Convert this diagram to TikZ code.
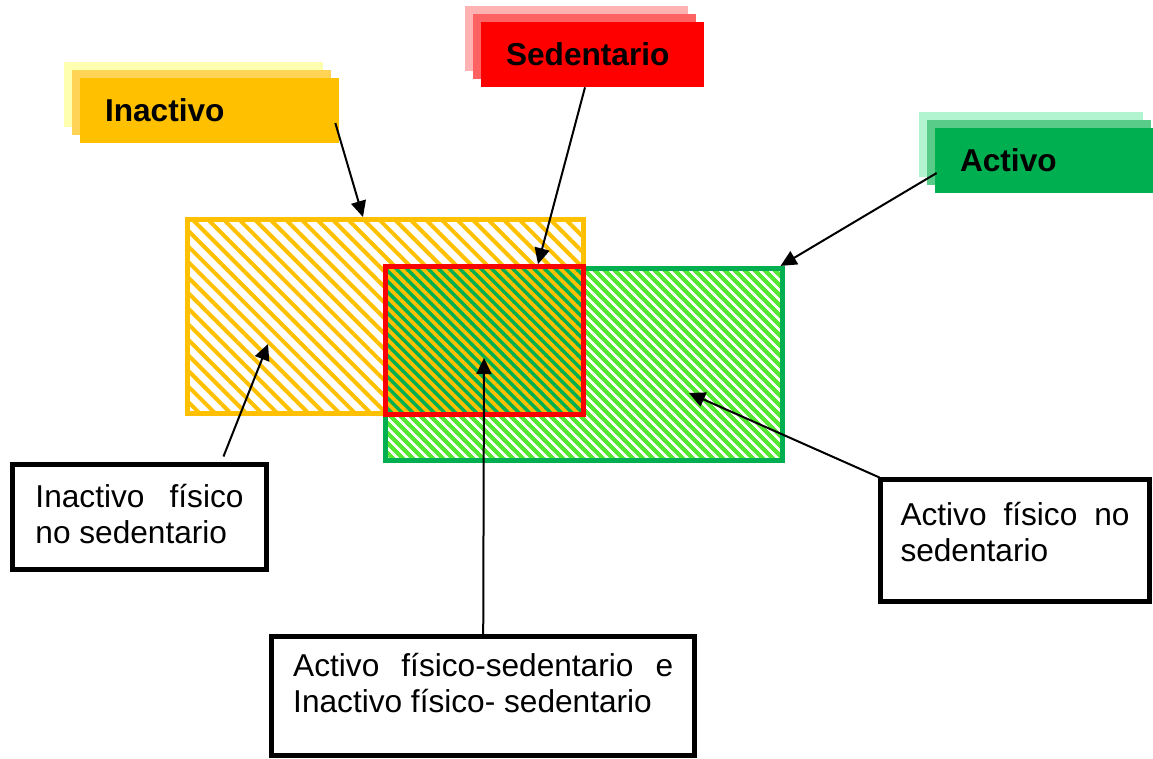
\documentclass[tikz,border=0pt]{standalone}
\usepackage{fontspec}
\setmainfont{Liberation Sans}
\usetikzlibrary{arrows.meta,patterns.meta,shadows}
\definecolor{inacorange}{HTML}{FFC000}
\definecolor{inacmid}{HTML}{FFD456}
\definecolor{inacpale}{HTML}{FFFFB0}
\definecolor{sedred}{HTML}{FF0000}
\definecolor{sedmid}{HTML}{FF6262}
\definecolor{sedpale}{HTML}{FFB2B2}
\definecolor{actgreen}{HTML}{00B050}
\definecolor{actmid}{HTML}{5ACC8A}
\definecolor{actpale}{HTML}{B2F4D0}
\definecolor{actlight}{HTML}{55E833}
\begin{document}
\begin{tikzpicture}[x=0.02cm,y=-0.02cm,
        tag/.style n args={3}{fill=#1, inner xsep=0.5cm, inner ysep=0pt, minimum height=1.3cm,
            align=left, font=\fontsize{18}{21}\selectfont\bfseries,
            general shadow={fill=#3, shadow xshift=-0.32cm, shadow yshift=0.32cm},
            general shadow={fill=#2, shadow xshift=-0.16cm, shadow yshift=0.16cm}},
        region/.style={draw=#1, line width=0.1cm, inner sep=0pt},
        txtbox/.style={draw, line width=0.1cm, fill=white, outer sep=0pt, inner ysep=0pt,
            align=justify, anchor=base west, font=\fontsize{18}{21}\selectfont},
        arr/.style={line width=0.04cm, -{Triangle[length=0.32cm,width=0.3cm]}}]
        \useasboundingbox (0,0) rectangle (1153,758);
        \node[region=inacorange, pattern={Lines[angle=-45,distance=0.22cm,line width=0.08cm]},
            pattern color=inacorange, minimum width=7.94cm, minimum height=3.9cm] (inacrect) at (385.5,316.5) {};
        \node[region=actgreen, pattern={Lines[angle=-45,distance=0.14cm,line width=0.085cm]},
            pattern color=actlight, minimum width=7.96cm, minimum height=3.86cm] (actrect) at (584,364.5) {};
        \node[region=sedred, preaction={fill=actgreen}, pattern={Lines[angle=-45,distance=0.15cm,line width=0.075cm]},
            pattern color=inacorange, minimum width=3.98cm, minimum height=2.98cm] (sedrect) at (484.5,340.5) {};
        \node[tag={inacorange}{inacmid}{inacpale}, text width=4.18cm] (inactivo) at (209.5,110.5) {Inactivo};
        \node[tag={sedred}{sedmid}{sedpale}, text width=3.46cm] (sedentario) at (592.5,54.5) {Sedentario};
        \node[tag={actgreen}{actmid}{actpale}, text width=3.48cm] (activo) at (1047,160.5) {Activo};
        \node[txtbox, text width=4.16cm, inner xsep=0.46cm, text height=0.85cm, text depth=1.25cm]
            (b1) at (12.5,507) {Inactivo físico\linebreak no sedentario};
        \node[txtbox, text width=4.58cm, inner xsep=0.4cm, text height=0.91cm, text depth=1.54cm]
            (b2) at (880.5,525) {Activo físico no\linebreak sedentario};
        \node[txtbox, text width=7.6cm, inner xsep=0.435cm, text height=0.79cm, text depth=1.6cm]
            (b3) at (271.5,676) {Activo físico-sedentario e\linebreak Inactivo físico- sedentario};
        \coordinate (pinac) at (268,344);
        \coordinate (psed) at (484,358);
        \coordinate (pact) at (689,393);
        \draw[arr] ([shift={(-4,12.5)}]inactivo.east) -- ([shift={(-22.5,0)}]inacrect.north);
        \draw[arr] ([shift={(-7.5,0)}]sedentario.south) -- ([shift={(53.5,0)}]sedrect.north);
        \draw[arr] ([shift={(2,12.5)}]activo.west) -- ([shift={(-4.5,0)}]actrect.north east);
        \draw[arr] ([shift={(84,-8)}]b1.north) -- (pinac);
        \draw[arr] (b3.north) -- (psed);
        \draw[arr] ([shift={(-1,-2)}]b2.north west) -- (pact);
\end{tikzpicture}
\end{document}
